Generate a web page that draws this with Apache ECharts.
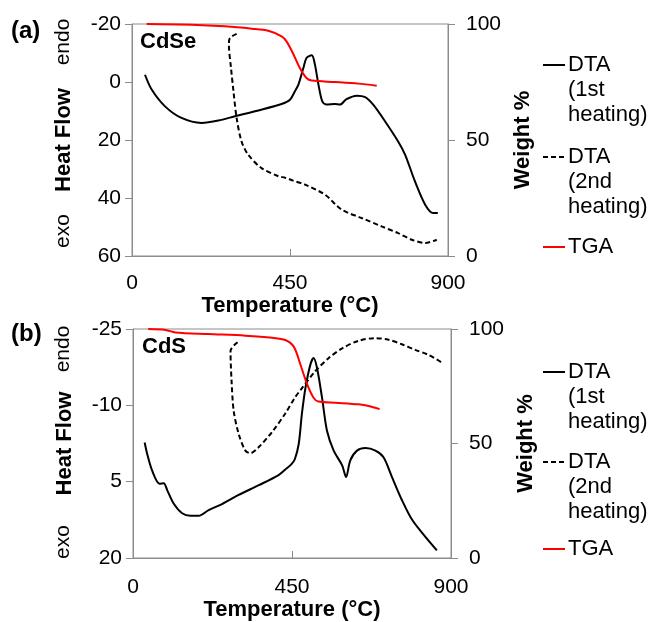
<!DOCTYPE html>
<html>
<head>
<meta charset="utf-8">
<script src="https://cdn.jsdelivr.net/npm/echarts@6/dist/echarts.min.js"></script>
<style>
  html, body { margin: 0; padding: 0; background: #fff; }
  #main { width: 649px; height: 622px; }
</style>
</head>
<body>
<div id="main"></div>
<script>
// (a) CdSe
var cdseDta1T = [37, 56, 94, 141, 198, 246, 293, 360, 426, 450, 464, 474, 488, 497, 512, 521, 531, 542, 554, 578, 592, 611, 640, 664, 687, 721, 758, 778, 806, 835, 858, 871];
var cdseDta1 = [-2.5, 2.6, 8.4, 12.4, 14.1, 13.3, 11.8, 9.8, 7.6, 6.1, 3.2, 0.9, -4.8, -8.3, -9.2, -6.0, 0.9, 6.7, 7.8, 7.6, 7.8, 5.9, 4.7, 5.2, 7.8, 13.6, 20.5, 25.1, 34.3, 42.3, 45.2, 45.2];
var cdseDta2T = [298, 279, 276, 282, 289, 298, 312, 331, 369, 417, 436, 459, 493, 550, 597, 654, 711, 758, 797, 835, 868];
var cdseDta2 = [-16.6, -15.2, -12.9, -4.8, 3.2, 12.4, 20.5, 25.1, 29.7, 32.5, 33.0, 34.0, 35.4, 38.9, 44.0, 46.9, 49.8, 52.1, 54.4, 55.5, 54.4];
var cdseTgaT = [42, 170, 265, 341, 388, 426, 440, 458, 478, 497, 512, 578, 645, 697];
var cdseTga = [100, 99.7, 99, 98, 97.1, 94.7, 92.5, 87.5, 81, 76.7, 75.6, 75, 74.3, 73.4];

// (b) CdS
var cdsDta1T = [33, 40, 54, 75, 87, 97, 115, 139, 163, 186, 214, 252, 299, 356, 412, 431, 448, 458, 469, 478, 488, 502, 511, 521, 535, 549, 568, 592, 603, 615, 634, 658, 686, 709, 733, 761, 790, 827, 860];
var cdsDta1 = [-2.7, -0.5, 2.8, 5.4, 5.3, 6.7, 9.3, 11.2, 11.7, 11.7, 10.6, 9.4, 7.6, 5.7, 3.7, 2.6, 1.6, 0.6, -2.4, -8.3, -13.4, -18.0, -19.3, -17.3, -11.5, -5.0, -1.1, 1.8, 4.1, 0.8, -1.1, -1.6, -1.1, 0.2, 4.1, 8.6, 12.5, 15.8, 18.5];
var cdsDta2T = [296, 276, 279, 285, 299, 318, 332, 356, 394, 431, 458, 474, 516, 554, 592, 639, 686, 723, 761, 799, 837, 872];
var cdsDta2 = [-22.4, -20.7, -14.7, -8.9, -4.4, -1.1, -0.6, -1.8, -4.8, -8.4, -11.5, -13.0, -16.7, -19.3, -21.2, -22.7, -23.2, -22.9, -22.0, -20.9, -19.9, -18.5];
var cdsTgaT = [43, 92, 120, 214, 318, 394, 431, 455, 474, 493, 511, 525, 573, 639, 667, 698];
var cdsTga = [100, 99.6, 98.5, 97.8, 97.1, 96.2, 95.2, 92.3, 84.4, 75.8, 70, 68.3, 67.8, 67.1, 66.4, 65];

var tempTicks = [0, 450, 900];
var heatTicksA = [-20, 0, 20, 40, 60];
var heatTicksB = [-25, -10, 5, 20];
var weightTicks = [0, 50, 100];

function pairs(t, v) {
    return t.map(function (x, i) { return [x, v[i]]; });
}

var font = 'Liberation Sans, Arial, sans-serif';
var gray = '#8c8c8c';

function xAxis(grid, margin, gap) {
    return {
        type: 'value', gridIndex: grid, min: 0, max: 900,
        name: 'Temperature (°C)', nameLocation: 'middle', nameGap: gap,
        nameTextStyle: { fontFamily: font, fontSize: 22, fontWeight: 'bold', color: '#000' },
        axisLine: { onZero: false, lineStyle: { color: gray } },
        axisTick: { inside: true, length: 7, lineStyle: { color: gray }, customValues: tempTicks },
        axisLabel: { fontFamily: font, fontSize: 21, color: '#000', margin: margin, customValues: tempTicks },
        splitLine: { show: false }
    };
}

function leftAxis(grid, min, max, ticks) {
    return {
        type: 'value', gridIndex: grid, min: min, max: max, inverse: true, position: 'left',
        name: 'Heat Flow', nameLocation: 'middle', nameRotate: 90, nameGap: 57,
        nameTextStyle: { fontFamily: font, fontSize: 22, fontWeight: 'bold', color: '#000' },
        axisLine: { show: true, onZero: false, lineStyle: { color: gray } },
        axisTick: { show: true, length: 7, lineStyle: { color: gray }, customValues: ticks },
        axisLabel: { fontFamily: font, fontSize: 21, color: '#000', margin: 11, customValues: ticks },
        splitLine: { show: false }
    };
}

function rightAxis(grid) {
    return {
        type: 'value', gridIndex: grid, min: 0, max: 100, position: 'right',
        name: 'Weight %', nameLocation: 'middle', nameRotate: 90, nameGap: 64,
        nameTextStyle: { fontFamily: font, fontSize: 22, fontWeight: 'bold', color: '#000' },
        axisLine: { show: true, onZero: false, lineStyle: { color: gray } },
        axisTick: { show: true, length: 7, lineStyle: { color: gray }, customValues: weightTicks },
        axisLabel: { fontFamily: font, fontSize: 21, color: '#000', margin: 18, customValues: weightTicks },
        splitLine: { show: false }
    };
}

function line(x, y, data, color, type) {
    return {
        type: 'line', xAxisIndex: x, yAxisIndex: y, data: data,
        showSymbol: false, symbol: 'none', smooth: 0.3, silent: true,
        lineStyle: { color: color, width: 2, type: type || 'solid' }
    };
}

function txt(x, y, s, size, bold, rot, align) {
    return {
        type: 'text', x: x, y: y, rotation: rot || 0,
        style: {
            text: s, fill: '#000', fontFamily: font, fontSize: size,
            fontWeight: bold ? 'bold' : 'normal',
            align: align || 'center', verticalAlign: 'middle'
        }
    };
}

function legendMark(y, color, dash) {
    return {
        type: 'line', shape: { x1: 543, y1: y, x2: 565, y2: y },
        style: { stroke: color, lineWidth: 2, lineDash: dash || null }
    };
}

function legendText(y, s) {
    return {
        type: 'text', x: 568, y: y - 12.5,
        style: { text: s, fill: '#000', fontFamily: font, fontSize: 22, align: 'left', verticalAlign: 'top', lineHeight: 25 }
    };
}

var R = Math.PI / 2;
var option = {
    animation: false,
    grid: [
        { left: 132, top: 24, width: 316, height: 232, show: true, borderColor: gray, borderWidth: 1 },
        { left: 133, top: 329, width: 318, height: 232, show: true, borderColor: gray, borderWidth: 1 }
    ],
    xAxis: [xAxis(0, 17, 38), xAxis(1, 19, 41)],
    yAxis: [
        leftAxis(0, -20, 60, heatTicksA), rightAxis(0),
        leftAxis(1, -25, 20, heatTicksB), rightAxis(1)
    ],
    series: [
        line(0, 0, pairs(cdseDta1T, cdseDta1), '#000'),
        line(0, 0, pairs(cdseDta2T, cdseDta2), '#000', [5, 3]),
        line(0, 1, pairs(cdseTgaT, cdseTga), '#ff0000'),
        line(1, 2, pairs(cdsDta1T, cdsDta1), '#000'),
        line(1, 2, pairs(cdsDta2T, cdsDta2), '#000', [5, 3]),
        line(1, 3, pairs(cdsTgaT, cdsTga), '#ff0000')
    ],
    graphic: [
        txt(11, 31, '(a)', 24, true, 0, 'left'),
        txt(63, 42, 'endo', 21, false, R),
        txt(63, 231, 'exo', 21, false, R),
        txt(140, 42, 'CdSe', 22, true, 0, 'left'),
        txt(11, 334, '(b)', 24, true, 0, 'left'),
        txt(63, 349, 'endo', 21, false, R),
        txt(63, 542, 'exo', 21, false, R),
        txt(142, 347, 'CdS', 22, true, 0, 'left'),
        legendMark(65, '#000'), legendText(65, 'DTA\n(1st\nheating)'),
        legendMark(157, '#000', [5, 3]), legendText(157, 'DTA\n(2nd\nheating)'),
        legendMark(247, '#ff0000'), legendText(247, 'TGA'),
        legendMark(372, '#000'), legendText(372, 'DTA\n(1st\nheating)'),
        legendMark(462, '#000', [5, 3]), legendText(462, 'DTA\n(2nd\nheating)'),
        legendMark(549, '#ff0000'), legendText(549, 'TGA')
    ]
};

var myChart = echarts.init(document.getElementById('main'));
myChart.setOption(option);
</script>
</body>
</html>
